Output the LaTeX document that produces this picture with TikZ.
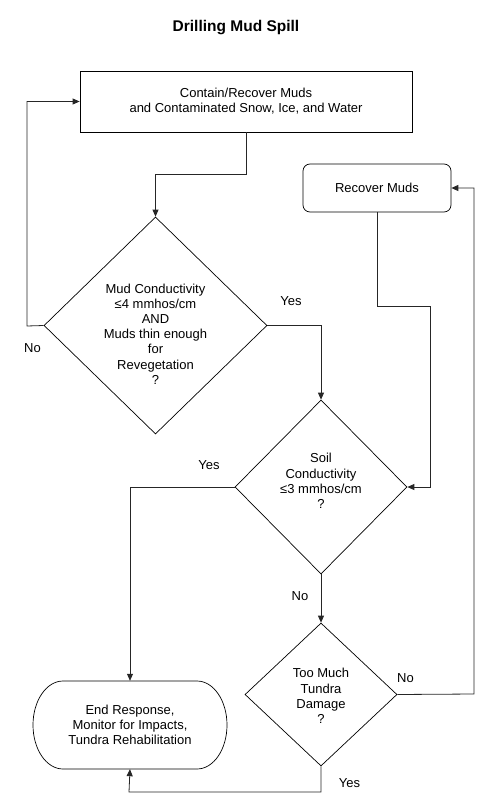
\documentclass[tikz,border=0pt]{standalone}
\usepackage{fontspec}
\setmainfont{Liberation Sans}
\usetikzlibrary{arrows.meta,shapes.geometric}
\begin{document}
\begin{tikzpicture}[x=1pt,y=-1pt,
  every node/.style={font=\fontsize{13}{15.2}\selectfont, align=center, inner sep=0pt},
  line/.style={line width=0.8pt, draw=black!85},
  arr/.style={line, -{Triangle[length=7pt,width=6pt]}},
  dia/.style={diamond, draw, line width=0.7pt, inner sep=0pt},
  lbl/.style={font=\fontsize{13}{15.2}\selectfont}
]
\useasboundingbox (0,0) rectangle (494,806);
\node[font=\bfseries\fontsize{15.5}{18}\selectfont] (title) at (236,28) {Drilling Mud Spill};

\node[draw, line width=0.8pt, minimum width=332pt, minimum height=61pt] (box1) at (246,101.5)
  {Contain/Recover Muds\\and Contaminated Snow, Ice, and Water};

\node[dia, minimum width=223pt, minimum height=217pt] (d1) at (155.5,325.5) {};
\node (t1) at (155.5,334) {Mud Conductivity\\≤4 mmhos/cm\\AND\\Muds thin enough\\for\\Revegetation\\?};

\node[draw, line width=0.7pt, rounded corners=7pt, minimum width=148pt, minimum height=48pt] (rec) at (377,188) {Recover Muds};

\node[dia, minimum width=172pt, minimum height=174pt] (d2) at (321,487) {};
\node (t2) at (321,481) {Soil\\Conductivity\\≤3 mmhos/cm\\?};

\node[dia, minimum width=152pt, minimum height=143pt] (d3) at (321,694.5) {};
\node (t3) at (321,696) {Too Much\\Tundra\\Damage\\?};

\node[minimum width=194pt, minimum height=88pt] (term) at (130,725)
  {End Response,\\Monitor for Impacts,\\Tundra Rehabilitation};
\draw[line width=0.7pt] (63,681) -- (197,681)
  .. controls (213.6,681) and (227,700.7) .. (227,725)
  .. controls (227,749.3) and (213.6,769) .. (197,769)
  -- (63,769)
  .. controls (46.4,769) and (33,749.3) .. (33,725)
  .. controls (33,700.7) and (46.4,681) .. (63,681);

% coordinates for connector bends
\coordinate (b1) at (246,174);
\coordinate (nox) at (27,326);
\coordinate (jog) at (430,306);
\coordinate (rx) at (474,694);
\coordinate (yb) at (129,792);

% connectors
\draw[arr] (box1.south) -- (b1) -| (d1.north);
\draw[arr] (d1.west) -- (nox) |- (box1.west);
\draw[arr] (d1.east) -| (d2.north);
\draw[arr] (rec.south) |- (jog) |- (d2.east);
\draw[arr] (d2.west) -| (term.north);
\draw[arr] (d2.south) -- (d3.north);
\draw[arr] (d3.east) -- (rx) |- (rec.east);
\draw[arr] (d3.south) |- (yb) -- (term.south);

% labels
\node[lbl] (l1) at (32.5,348) {No};
\node[lbl] (l2) at (291,301) {Yes};
\node[lbl] (l3) at (209,465) {Yes};
\node[lbl] (l4) at (300,596) {No};
\node[lbl] (l5) at (405.5,678) {No};
\node[lbl] (l6) at (349.5,783) {Yes};
\end{tikzpicture}
\end{document}
